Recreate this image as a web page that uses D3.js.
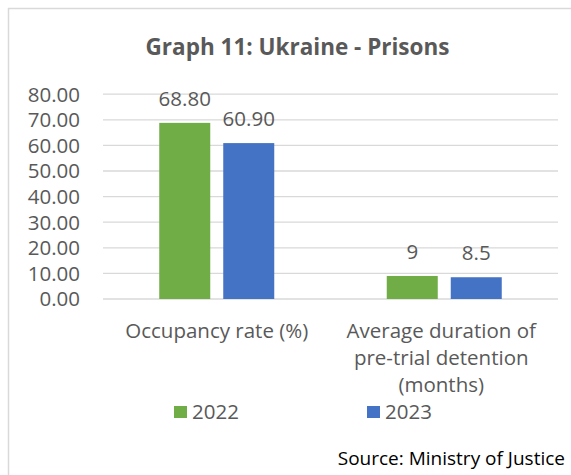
<!DOCTYPE html>
<html>
<meta charset="utf-8">
<head>
<script src="https://d3js.org/d3.v7.min.js"></script>
<title>Graph 11: Ukraine - Prisons</title>
<style>
html, body {
	margin: 0;
	padding: 0;
	background: white;
}
svg {
	display: block;
	font-family: 'Open Sans', 'Noto Sans', sans-serif;
}
</style>
</head>
<body>
<svg></svg>
<script>
var width = 571;
var height = 475;

// data
var categories = [["Occupancy rate (%)"], ["Average duration of", "pre-trial detention", "(months)"]];
var years = ["2022", "2023"];
var values2022 = [68.80, 9];
var values2023 = [60.90, 8.5];
var labelFormats = [d3.format(".2f"), d3.format("")];
var yTicks = [0, 10, 20, 30, 40, 50, 60, 70, 80];
var colors = ["#70ad47", "#4472c4"];

var textColor = "#595959";
var gridColor = "#d9d9d9";
var fontSize = 20.5;

var svg = d3.select("svg")
	.attr("width", width)
	.attr("height", height);

// chart frame (cropped on right and bottom)
svg.append("rect")
	.attr("x", 8.5).attr("y", 8.5)
	.attr("width", 640).attr("height", 520)
	.style("fill", "white")
	.style("stroke", gridColor)
	.style("stroke-width", 1.5);

// title
svg.append("text")
	.attr("x", 297.5).attr("y", 55)
	.attr("text-anchor", "middle")
	.style("font-size", "22.5px")
	.style("font-weight", 700)
	.style("fill", textColor)
	.text("Graph 11: Ukraine - Prisons");

var catKeys = categories.map(function(c, i) { return i; });
var x0 = d3.scaleBand().domain(catKeys).range([103, 558]);
var x1 = d3.scaleBand().domain(years).range([0, x0.bandwidth()])
	.paddingInner(0.203).paddingOuter(0.879);
var y = d3.scaleLinear().domain([0, 80]).range([299, 94.2]);

// gridlines
svg.append("g")
	.selectAll("line")
	.data(yTicks)
	.enter().append("line")
		.attr("x1", x0.range()[0])
		.attr("x2", x0.range()[1])
		.attr("y1", function(d) { return y(d); })
		.attr("y2", function(d) { return y(d); })
		.style("stroke", gridColor)
		.style("stroke-width", 1.3);

// y tick labels
svg.append("g")
	.selectAll("text")
	.data(yTicks)
	.enter().append("text")
		.attr("x", 80)
		.attr("y", function(d) { return y(d); })
		.attr("dy", "0.36em")
		.attr("text-anchor", "end")
		.style("font-size", fontSize + "px")
		.style("fill", textColor)
		.text(function(d) { return d3.format(".2f")(d); });

// bars
var series = [values2022, values2023];
var barData = [];
series.forEach(function(vals, s) {
	vals.forEach(function(v, c) {
		barData.push({cat: c, year: years[s], s: s, value: v});
	});
});

svg.append("g")
	.selectAll("rect")
	.data(barData)
	.enter().append("rect")
		.attr("x", function(d) { return x0(d.cat) + x1(d.year); })
		.attr("y", function(d) { return y(d.value); })
		.attr("width", x1.bandwidth())
		.attr("height", function(d) { return y(0) - y(d.value); })
		.style("fill", function(d) { return colors[d.s]; });

// data labels
svg.append("g")
	.selectAll("text")
	.data(barData)
	.enter().append("text")
		.attr("x", function(d) { return x0(d.cat) + x1(d.year) + x1.bandwidth() / 2; })
		.attr("y", function(d) { return y(d.value) - 17; })
		.attr("text-anchor", "middle")
		.style("font-size", fontSize + "px")
		.style("fill", textColor)
		.text(function(d) { return labelFormats[d.cat](d.value); });

// category labels
var cat = svg.append("g")
	.selectAll("text")
	.data(categories)
	.enter().append("text")
		.attr("x", function(d, i) { return x0(i) + x0.bandwidth() / 2 - (i ? 3 : 0); })
		.attr("y", 338)
		.attr("text-anchor", "middle")
		.style("font-size", fontSize + "px")
		.style("fill", textColor);
cat.selectAll("tspan")
	.data(function(d) { return d; })
	.enter().append("tspan")
		.attr("x", function() { return d3.select(this.parentNode).attr("x"); })
		.attr("dy", function(d, i) { return i ? 27 : 0; })
		.text(function(d) { return d; });

// legend
var legendX = [174, 367];
var legend = svg.append("g")
	.selectAll("g")
	.data(years)
	.enter().append("g")
		.attr("transform", function(d, i) { return "translate(" + legendX[i] + ",406)"; });
legend.append("rect")
	.attr("width", 13).attr("height", 12)
	.style("fill", function(d, i) { return colors[i]; });
legend.append("text")
	.attr("x", 18).attr("y", 12.5)
	.style("font-size", fontSize + "px")
	.style("fill", textColor)
	.text(function(d) { return d; });

// source
svg.append("text")
	.attr("x", 565).attr("y", 465)
	.attr("text-anchor", "end")
	.style("font-size", "19px")
	.style("fill", "#000")
	.text("Source: Ministry of Justice");
</script>
</body>
</html>
